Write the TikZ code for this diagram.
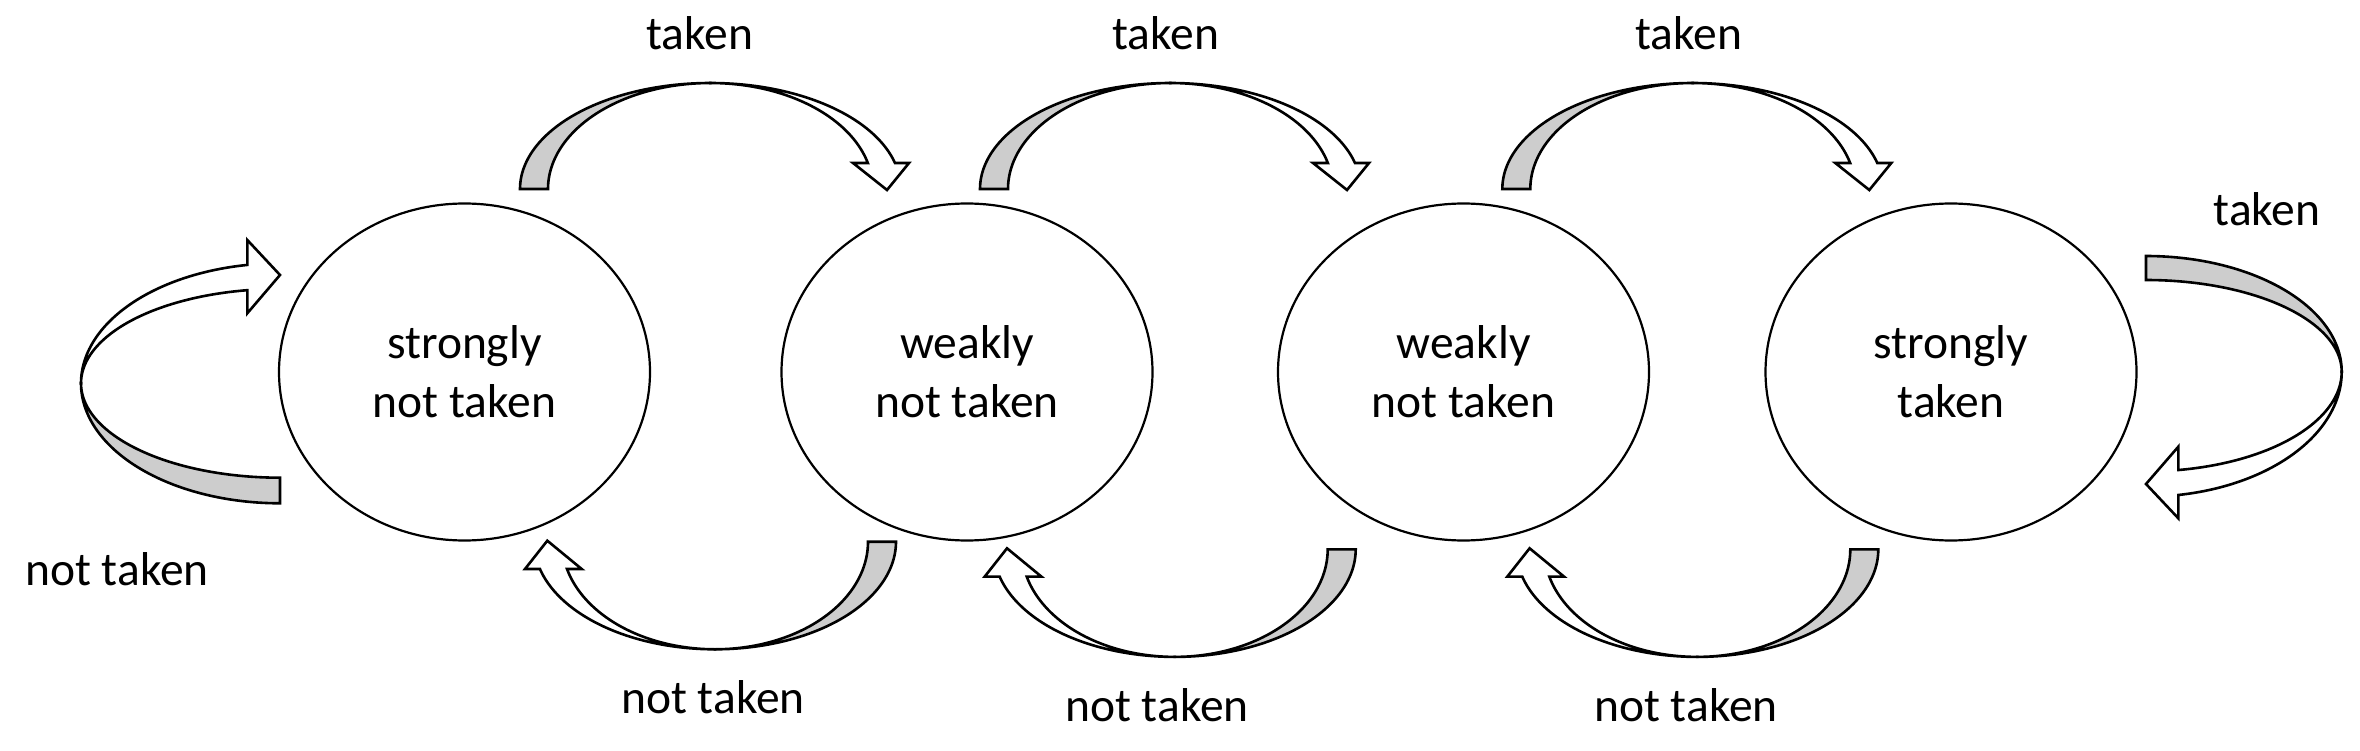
\documentclass[tikz,border=0pt]{standalone}
\usepackage{fontspec}
\setmainfont{Carlito}
\usetikzlibrary{shapes.geometric}
\definecolor{arrgray}{RGB}{205,205,205}
\tikzset{
  state/.style={ellipse, draw=black, line width=2.2pt, minimum width=371pt, minimum height=337pt, inner sep=0pt, align=center},
  lbl/.style={anchor=base, inner sep=0pt},
  blockarrow/.style={draw=black, line width=2.6pt, line join=miter}
}
% top arrow: center cx, cy
\newcommand{\TopArr}[2]{%
  \draw[blockarrow, fill=arrgray] plot[domain=180:270,samples=60] ({#1+190.4*cos(\x)},{#2+106*sin(\x)}) -- plot[domain=270:180,samples=60] ({#1+162.4*cos(\x)},{#2+106*sin(\x)}) -- cycle;
  \draw[blockarrow, fill=white] plot[domain=270:345.81,samples=60] ({#1+190.4*cos(\x)},{#2+106*sin(\x)}) -- ({#1+198.6},{#2-26}) -- ({#1+176.6},{#2+1}) -- ({#1+142.6},{#2-26}) -- plot[domain=345.81:270,samples=60] ({#1+162.4*cos(\x)},{#2+106*sin(\x)}) -- cycle;
}
% bottom arrow: center cx, cy
\newcommand{\BotArr}[2]{%
  \draw[blockarrow, fill=arrgray] plot[domain=0:90,samples=60] ({#1+181*cos(\x)},{#2+107.6*sin(\x)}) -- plot[domain=90:0,samples=60] ({#1+153*cos(\x)},{#2+107.6*sin(\x)}) -- cycle;
  \draw[blockarrow, fill=white] plot[domain=90:165.3,samples=60] ({#1+181*cos(\x)},{#2+107.6*sin(\x)}) -- ({#1-190},{#2+27.3}) -- ({#1-167.7},{#2-1}) -- ({#1-133.3},{#2+27.3}) -- plot[domain=165.3:90,samples=60] ({#1+153*cos(\x)},{#2+107.6*sin(\x)}) -- cycle;
}
\begin{document}
\begin{tikzpicture}[x=1pt,y=-1pt,font=\fontsize{47.5pt}{59pt}\selectfont]
\useasboundingbox (0,0) rectangle (2360,751);

% states
\node[state] (s1) at (464.5,372) {strongly\\not taken};
\node[state] (s2) at (967,372) {weakly\\not taken};
\node[state] (s3) at (1463.5,372) {weakly\\not taken};
\node[state] (s4) at (1951,372) {strongly\\taken};

% top arrows (taken)
\TopArr{710.4}{189}
\TopArr{1170.4}{189}
\TopArr{1692.7}{189}

% bottom arrows (not taken)
\BotArr{715}{541.7}
\BotArr{1174.7}{549.3}
\BotArr{1697.3}{549.3}

% left self loop
\draw[blockarrow, fill=arrgray] plot[domain=90:180,samples=60] ({280+199*cos(\x)},{383.3+120*sin(\x)}) -- plot[domain=180:90,samples=60] ({280+199*cos(\x)},{383.3+94.4*sin(\x)}) -- cycle;
\draw[blockarrow, fill=white] plot[domain=180:260.54,samples=60] ({280+199*cos(\x)},{383.3+120*sin(\x)}) -- (247.3,240) -- (280,275) -- (247.3,313.3) -- plot[domain=260.54:180,samples=60] ({280+199*cos(\x)},{383.3+94.4*sin(\x)}) -- cycle;

% right self loop
\draw[blockarrow, fill=arrgray] plot[domain=270:360,samples=60] ({2146+195.7*cos(\x)},{371.7+115.7*sin(\x)}) -- plot[domain=360:270,samples=60] ({2146+195.7*cos(\x)},{371.7+91.7*sin(\x)}) -- cycle;
\draw[blockarrow, fill=white] plot[domain=0:80.5,samples=60] ({2146+195.7*cos(\x)},{371.7+125*sin(\x)}) -- (2178.3,518.3) -- (2146,484) -- (2178.3,446.7) -- plot[domain=80.5:0,samples=60] ({2146+195.7*cos(\x)},{371.7+99.7*sin(\x)}) -- cycle;

% labels
\node[lbl] (lt1) at (700,49.5) {taken};
\node[lbl] (lt2) at (1166,49.5) {taken};
\node[lbl] (lt3) at (1689,49.5) {taken};
\node[lbl] (lt4) at (2267,226) {taken};
\node[lbl] (ln0) at (117,585) {not taken};
\node[lbl] (ln1) at (713,713) {not taken};
\node[lbl] (ln2) at (1157,721) {not taken};
\node[lbl] (ln3) at (1686,721) {not taken};
\end{tikzpicture}
\end{document}
